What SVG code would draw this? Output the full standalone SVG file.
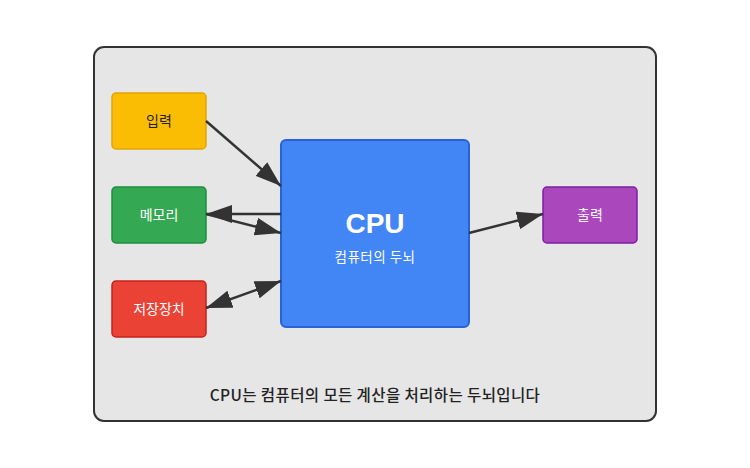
<svg xmlns="http://www.w3.org/2000/svg" width="750" height="468" viewBox="0 0 750 468">
<defs>
<style>
.t{font-family:"Liberation Sans","Noto Sans CJK KR",sans-serif;text-anchor:middle}
.k{font-family:"Noto Sans CJK KR","Liberation Sans",sans-serif;text-anchor:middle}
.box{stroke-width:1.5}
.conn line{stroke:#333;stroke-width:2.5;fill:none}
</style>
<marker id="ah" viewBox="0 0 26 18" refX="26" refY="9" markerWidth="26" markerHeight="18" markerUnits="userSpaceOnUse" orient="auto">
<path d="M0,0 L26,9 L0,18 Z" fill="#333"/>
</marker>
<marker id="as" viewBox="0 0 26 18" refX="26" refY="9" markerWidth="26" markerHeight="18" markerUnits="userSpaceOnUse" orient="auto-start-reverse">
<path d="M0,0 L26,9 L0,18 Z" fill="#333"/>
</marker>
</defs>
<rect x="0" y="0" width="750" height="468" fill="#ffffff"/>
<g id="panel">
<rect x="94" y="47" width="562" height="374" rx="10" fill="#e6e6e6" stroke="#333" stroke-width="2"/>
</g>
<g id="input">
<rect class="box" x="112" y="93" width="94" height="56" rx="4" fill="#fbbc04" stroke="#e3a500"/>
<text class="k" x="159" y="126" font-size="14" fill="#222">입력</text>
</g>
<g id="memory">
<rect class="box" x="112" y="187" width="94" height="56" rx="4" fill="#34a853" stroke="#1e8e3e"/>
<text class="k" x="159" y="220" font-size="14" fill="#fff">메모리</text>
</g>
<g id="storage">
<rect class="box" x="112" y="281" width="94" height="56" rx="4" fill="#ea4335" stroke="#c5221f"/>
<text class="k" x="159" y="314" font-size="14" fill="#fff">저장장치</text>
</g>
<g id="cpu">
<rect x="281" y="140" width="188" height="187" rx="5" fill="#4285f4" stroke="#2a62d6" stroke-width="2"/>
<text class="t" x="375" y="233" font-size="28" font-weight="bold" fill="#fff">CPU</text>
<text class="k" x="375" y="262" font-size="13.5" letter-spacing="0.5" fill="#fff">컴퓨터의 두뇌</text>
</g>
<g id="output">
<rect class="box" x="543" y="187" width="94" height="56" rx="4" fill="#ab47bc" stroke="#7b1fa2"/>
<text class="k" x="590" y="220" font-size="14" fill="#fff">출력</text>
</g>
<g id="connectors" class="conn">
<line x1="206" y1="121" x2="281" y2="186" marker-end="url(#ah)"/>
<line x1="281" y1="214" x2="206" y2="214" marker-end="url(#ah)"/>
<line x1="206" y1="214" x2="281" y2="233" marker-end="url(#ah)"/>
<line x1="206" y1="308" x2="281" y2="281" marker-start="url(#as)" marker-end="url(#ah)"/>
<line x1="469" y1="233" x2="543" y2="214" marker-end="url(#ah)"/>
</g>
<g id="caption">
<text class="k" x="375" y="401" font-size="15.5" letter-spacing="0.4" font-weight="500" fill="#222">CPU는 컴퓨터의 모든 계산을 처리하는 두뇌입니다</text>
</g>
</svg>
